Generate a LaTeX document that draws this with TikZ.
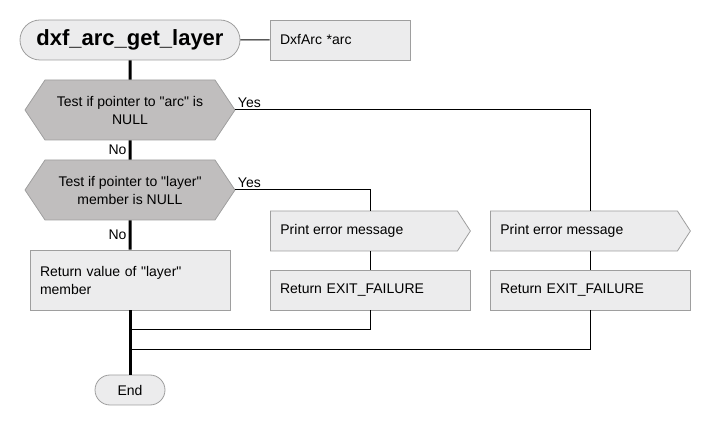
\documentclass[tikz,border=0pt]{standalone}
\usepackage{fontspec}
\setmainfont{Liberation Sans}
\usetikzlibrary{shapes.symbols,shapes.misc}
\definecolor{boxfill}{RGB}{236,236,237}
\definecolor{testfill}{RGB}{192,190,190}
\definecolor{boxline}{RGB}{158,158,158}
\newcommand{\qt}{\textquotedbl}
\tikzstyle{terminal}=[rounded rectangle,draw=boxline,line width=0.8pt,fill=boxfill,inner sep=0pt]
\tikzstyle{test}=[signal,signal to=west and east,signal pointer angle=112.6,draw=boxline,line width=0.8pt,fill=testfill,minimum width=210,minimum height=60,inner sep=0pt,align=center,font=\fontsize{14}{18}\selectfont]
\tikzstyle{printbox}=[signal,signal to=east,signal pointer angle=114,draw=boxline,line width=0.8pt,fill=boxfill,minimum height=40,inner sep=0pt,anchor=west]
\tikzstyle{process}=[rectangle,draw=boxline,line width=0.8pt,fill=boxfill,minimum height=40,text width=180,inner xsep=10pt,inner ysep=0pt,align=left,font=\fontsize{14}{18}\selectfont]
\tikzstyle{spine}=[draw,line width=3pt]
\tikzstyle{link}=[draw,line width=1pt]
\tikzstyle{answer}=[font=\fontsize{14}{16}\selectfont,inner sep=2pt]

\begin{document}
\begin{tikzpicture}[x=1pt,y=-1pt,font=\fontsize{14}{16}\selectfont]
\useasboundingbox (0,0) rectangle (710,430);
\node[terminal,minimum width=220,minimum height=40,font=\fontsize{22}{26}\selectfont\bfseries] (start) at (130,40) {dxf\_arc\_get\_layer};
\node[process,text width=120] (par) at (340,40) {DxfArc *arc};
\node[test] (t1) at (130,110) {Test if pointer to \qt arc\qt{} is\\NULL};
\node[test] (t2) at (130,190) {Test if pointer to \qt layer\qt\\member is NULL};
\node[process,minimum height=60] (ret) at (130,280) {Return value of \qt layer\qt\\member};
\node[terminal,minimum width=70,minimum height=30] (end) at (130,390) {End};
\node[printbox] (err1) at (270,231) {\makebox[187pt][l]{\hspace*{10pt}Print error message}};
\node[process] (fail1) at (370,290) {Return EXIT\_FAILURE};
\node[printbox] (err2) at (490,231) {\makebox[187pt][l]{\hspace*{10pt}Print error message}};
\node[process] (fail2) at (590,290) {Return EXIT\_FAILURE};
\coordinate (j1) at (130,330);
\coordinate (j2) at (130,350);
% main line
\draw[link] (start) -- (par);
\draw[link] (t1.east) node[answer,above right] {Yes} -| (err2.north -| fail2);
\draw[link] (t2.east) node[answer,above right] {Yes} -| (err1.north -| fail1);
\draw[link] (err1.south -| fail1) -- (fail1);
\draw[link] (err2.south -| fail2) -- (fail2);
\draw[link] (fail1.south) |- (j1);
\draw[link] (fail2.south) |- (j2);
\draw[spine] (start) -- (t1);
\draw[spine] (t1) -- node[answer,left,pos=0.5] {No} (t2);
\draw[spine] (t2) -- node[answer,left,pos=0.5] {No} (ret);
\draw[spine] (ret) -- (end);
\end{tikzpicture}
\end{document}
